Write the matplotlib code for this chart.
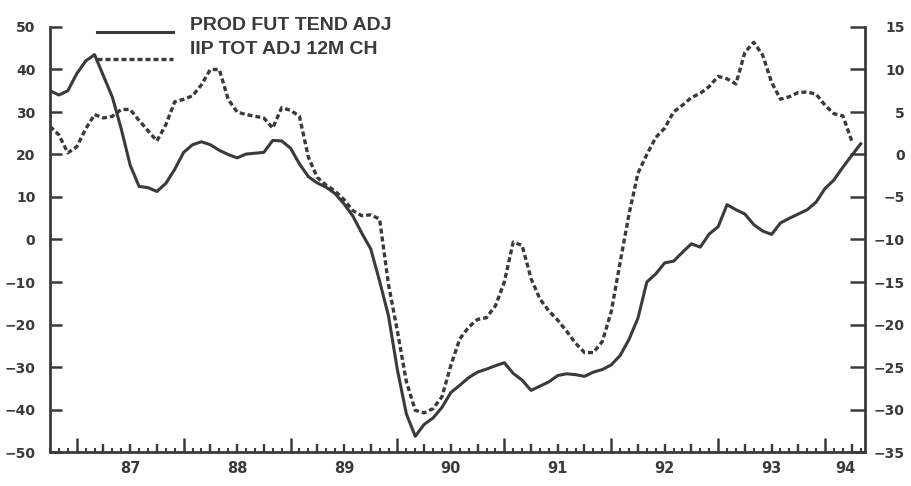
import matplotlib
matplotlib.use("Agg")
import matplotlib.pyplot as plt
from matplotlib.lines import Line2D
import numpy as np

# ---------------- data (monthly, first value = Oct 1986) ----------------
start_year = 1986
start_month = 10

# PROD FUT TEND ADJ (left axis), Oct 1986 .. May 1994
prod = [35, 34, 35,
        39, 42, 43.5, 38.5, 33.5, 26, 17.5, 12.5, 12.2, 11.3, 13.2, 16.5,          # 1987
        20.5, 22.3, 23, 22.3, 21, 20, 19.2, 20.1, 20.3, 20.5, 23.3, 23.2,          # 1988
        21.5, 17.8, 14.8, 13.3, 12.3, 10.8, 8.4, 5.5, 1.5, -2.2, -9.8, -18,        # 1989
        -30.7, -41, -46.3, -43.5, -42, -39.5, -36, -34.3, -32.5, -31.2, -30.5, -29.7,  # 1990
        -29, -31.5, -33.1, -35.5, -34.5, -33.5, -32, -31.6, -31.8, -32.2, -31.2, -30.6,  # 1991
        -29.5, -27.3, -23.5, -18.5, -10, -8.1, -5.5, -5.1, -3, -1, -1.8, 1.3,       # 1992
        3, 8.2, 7, 6, 3.5, 2, 1.2, 3.9, 5, 6, 7, 8.8,                              # 1993
        12, 14, 17, 19.8, 22.5]                                                    # 1994

# IIP TOT ADJ 12M CH (right axis), Oct 1986 .. Apr 1994
iip = [3.3, 2.3, 0.2,
       0.9, 3.0, 4.7, 4.3, 4.5, 5.3, 5.3, 4.0, 2.8, 1.6, 3.5, 6.2,                 # 1987
       6.5, 6.9, 8.2, 10.0, 10.0, 6.5, 5.0, 4.7, 4.5, 4.3, 3.1, 5.5,              # 1988
       5.2, 4.5, -0.3, -2.7, -3.6, -4.3, -5.3, -6.6, -7.2, -7.1, -7.6, -15.3,     # 1989
       -20.8, -26.7, -30.1, -30.4, -29.9, -28.5, -24.8, -21.7, -20.3, -19.4, -19.2, -17.8,  # 1990
       -15.0, -10.3, -10.7, -14.6, -17.0, -18.4, -19.5, -20.8, -22.2, -23.3, -23.3, -22.0,  # 1991
       -18.5, -12.7, -7.0, -2.2, 0.0, 2.0, 3.1, 5.0, 5.8, 6.7, 7.2, 8.0,          # 1992
       9.2, 8.9, 8.3, 12.0, 13.2, 11.7, 8.5, 6.5, 6.8, 7.3, 7.35, 7.1,            # 1993
       5.8, 4.8, 4.55, 1.6]                                                       # 1994

series_labels = ["PROD FUT TEND ADJ", "IIP TOT ADJ 12M CH"]
years = [1987, 1988, 1989, 1990, 1991, 1992, 1993, 1994]
year_labels = ["87", "88", "89", "90", "91", "92", "93", "94"]
left_ticks = [-50, -40, -30, -20, -10, 0, 10, 20, 30, 40, 50]
right_ticks = [-35, -30, -25, -20, -15, -10, -5, 0, 5, 10, 15]

# ---------------- styling ----------------
ink = "#3a3a3a"
plt.rcParams["font.family"] = ["DejaVu Sans"]
plt.rcParams["font.weight"] = "bold"

x0 = start_year + (start_month - 1) / 12.0
x_prod = x0 + np.arange(len(prod)) / 12.0
x_iip = x0 + np.arange(len(iip)) / 12.0
xmin, xmax = 1986.757, 1994.374

fig = plt.figure(figsize=(9.12, 4.86), dpi=100)
W, H = 912.0, 486.0
ax = fig.add_axes([50 / W, 34 / H, 815 / W, 425 / H])
ax2 = ax.twinx()

dash = (0, (1.5, 0.9))
ax.plot(x_prod, prod, color=ink, lw=2.2, solid_joinstyle="round", zorder=3)
ax2.plot(x_iip, iip, color=ink, lw=2.4, linestyle=dash, zorder=3)

ax.set_xlim(xmin, xmax)
ax.set_ylim(-50, 50)
ax2.set_ylim(-35, 15)

for s in ["top", "right"]:
    ax.spines[s].set_visible(False)
for s in ["top", "left", "bottom"]:
    ax2.spines[s].set_visible(False)
for s in ["left", "bottom"]:
    ax.spines[s].set_linewidth(2.0)
    ax.spines[s].set_color(ink)
ax2.spines["right"].set_linewidth(2.0)
ax2.spines["right"].set_color(ink)

# y axes
ax.set_yticks(left_ticks)
ax.tick_params(axis="y", direction="in", length=8.6, width=1.8, pad=10.5,
               labelsize=10, colors=ink)
ax2.set_yticks(right_ticks)
ax2.tick_params(axis="y", direction="in", length=10.5, width=1.8, pad=28.5,
                labelsize=10, colors=ink)
plt.setp(ax2.get_yticklabels(), ha="right")

# x axis: year ticks (tall) and monthly ticks (small)
months = x0 + np.arange(int(round((xmax - x0) * 12)) + 1) / 12.0
ax.set_xticks(years)
ax.set_xticks(months, minor=True)
ax.tick_params(axis="x", which="major", direction="in", length=10, width=1.8,
               labelbottom=False, colors=ink)
ax.tick_params(axis="x", which="minor", direction="in", length=2.6, width=1.5,
               colors=ink)

# quarterly ticks and year labels via a secondary axis
quarters = [y + q / 4.0 for y in range(1986, 1995) for q in (1, 2, 3)
            if xmin < y + q / 4.0 < xmax]
label_pos = [y + 0.5 for y in years[:-1]] + [(years[-1] + xmax) / 2.0]
sec = ax.secondary_xaxis("bottom")
sec.xaxis.remove_overlapping_locs = False
sec.spines["bottom"].set_visible(False)
sec.set_xticks(quarters)
sec.set_xticks(label_pos, labels=year_labels, minor=True)
sec.tick_params(which="major", direction="in", length=6, width=1.7,
                labelbottom=False, colors=ink)
sec.tick_params(which="minor", direction="in", length=0, pad=6.5,
                labelsize=10.5, colors=ink)

# legend drawn as in the original (lines left of the labels)
fig.add_artist(Line2D([97 / W, 173 / W], [1 - 32 / H] * 2, transform=fig.transFigure,
                      color=ink, lw=2.2))
fig.add_artist(Line2D([97 / W, 173 / W], [1 - 59 / H] * 2, transform=fig.transFigure,
                      color=ink, lw=2.4, linestyle=dash))
fig.text(190 / W, 1 - 30 / H, series_labels[0], fontfamily="Liberation Sans",
         fontweight="bold", fontsize=14, ha="left", va="baseline", color=ink)
fig.text(190 / W, 1 - 54.5 / H, series_labels[1], fontfamily="Liberation Sans",
         fontweight="bold", fontsize=14, ha="left", va="baseline", color=ink)

fig.savefig("out.png", dpi=100, facecolor="white")
